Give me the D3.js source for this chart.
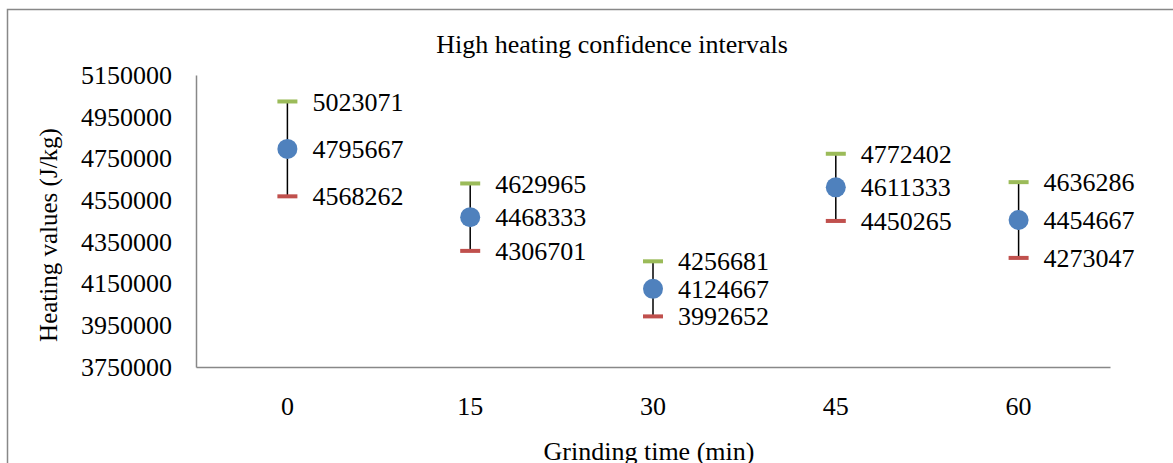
<!DOCTYPE html>
<html>
<head>
<meta charset="utf-8">
<script src="https://cdn.jsdelivr.net/npm/d3@7"></script>
<style>
  body { margin: 0; background: #fff; }
</style>
</head>
<body>
<script>
var categories = ["0", "15", "30", "45", "60"];
var highValues = [5023071, 4629965, 4256681, 4772402, 4636286];
var meanValues = [4795667, 4468333, 4124667, 4611333, 4454667];
var lowValues  = [4568262, 4306701, 3992652, 4450265, 4273047];
var yTicks = [3750000, 3950000, 4150000, 4350000, 4550000, 4750000, 4950000, 5150000];

var serif = "'Liberation Serif', 'Times New Roman', serif";

var width = 1173,
    height = 463,
    plotLeft = 196,
    plotRight = 1110,
    plotTop = 75,
    plotBottom = 367;

var svg = d3.select("body")
            .append("svg")
            .attr("width", width)
            .attr("height", height)
            .attr("font-family", serif);

// chart frame (runs off the right and bottom edge)
svg.append("rect")
   .attr("x", 7.5).attr("y", 9.5)
   .attr("width", 1200).attr("height", 500)
   .attr("fill", "none")
   .attr("stroke", "#888")
   .attr("stroke-width", 1.5);

var x = d3.scaleBand().domain(categories).range([plotLeft, plotRight]),
    y = d3.scaleLinear().domain([3750000, 5150000]).range([plotBottom, plotTop]);

var yAxis = svg.append("g")
   .attr("transform", "translate(" + plotLeft + ",0)")
   .call(d3.axisLeft(y).tickValues(yTicks).tickSize(0).tickPadding(24).tickFormat(d3.format("d")));
yAxis.attr("font-family", serif).attr("font-size", 26);
yAxis.select(".domain").attr("stroke", "#888").attr("stroke-width", 1.5);
yAxis.selectAll("text").style("font-family", serif).style("font-size", "26px").attr("fill", "#000");

var xAxis = svg.append("g")
   .attr("transform", "translate(0," + plotBottom + ")")
   .call(d3.axisBottom(x).tickSize(0).tickPadding(30));
xAxis.attr("font-family", serif).attr("font-size", 26);
xAxis.select(".domain").attr("stroke", "#888").attr("stroke-width", 1.5);
xAxis.selectAll("text").style("font-family", serif).style("font-size", "26px").attr("fill", "#000");

svg.append("text")
   .attr("x", 612).attr("y", 53)
   .attr("text-anchor", "middle")
   .style("font-family", serif)
   .style("font-size", "26px")
   .text("High heating confidence intervals");

svg.append("text")
   .attr("transform", "translate(57,235) rotate(-90)")
   .attr("text-anchor", "middle")
   .style("font-family", serif)
   .style("font-size", "25px")
   .text("Heating values (J/kg)");

svg.append("text")
   .attr("x", 649).attr("y", 460)
   .attr("text-anchor", "middle")
   .style("font-family", serif)
   .style("font-size", "26px")
   .text("Grinding time (min)");

var data = categories.map(function(c, i) {
  return {cat: c, high: highValues[i], mean: meanValues[i], low: lowValues[i]};
});

var g = svg.append("g");
var cx = function(d){ return x(d.cat) + x.bandwidth()/2; };

g.selectAll(".hl").data(data).enter().append("line")
  .attr("x1", cx)
  .attr("x2", cx)
  .attr("y1", function(d){ return y(d.high); })
  .attr("y2", function(d){ return y(d.low); })
  .attr("stroke", "#000").attr("stroke-width", 1.5);

g.selectAll(".hi").data(data).enter().append("rect")
  .attr("x", function(d){ return cx(d) - 10; })
  .attr("y", function(d){ return y(d.high) - 2; })
  .attr("width", 20).attr("height", 4)
  .attr("fill", "#9BBB59");

g.selectAll(".lo").data(data).enter().append("rect")
  .attr("x", function(d){ return cx(d) - 10; })
  .attr("y", function(d){ return y(d.low) - 2; })
  .attr("width", 20).attr("height", 4)
  .attr("fill", "#C0504D");

g.selectAll(".mn").data(data).enter().append("circle")
  .attr("cx", cx)
  .attr("cy", function(d){ return y(d.mean); })
  .attr("r", 10)
  .attr("fill", "#4F81BD");

["high", "mean", "low"].forEach(function(k) {
  g.selectAll(".lb-" + k).data(data).enter().append("text")
    .attr("x", function(d){ return cx(d) + 25; })
    .attr("y", function(d){ return y(d[k]); })
    .attr("dy", "0.35em")
    .style("font-family", serif)
    .style("font-size", "26px")
    .text(function(d){ return d[k]; });
});
</script>
</body>
</html>
